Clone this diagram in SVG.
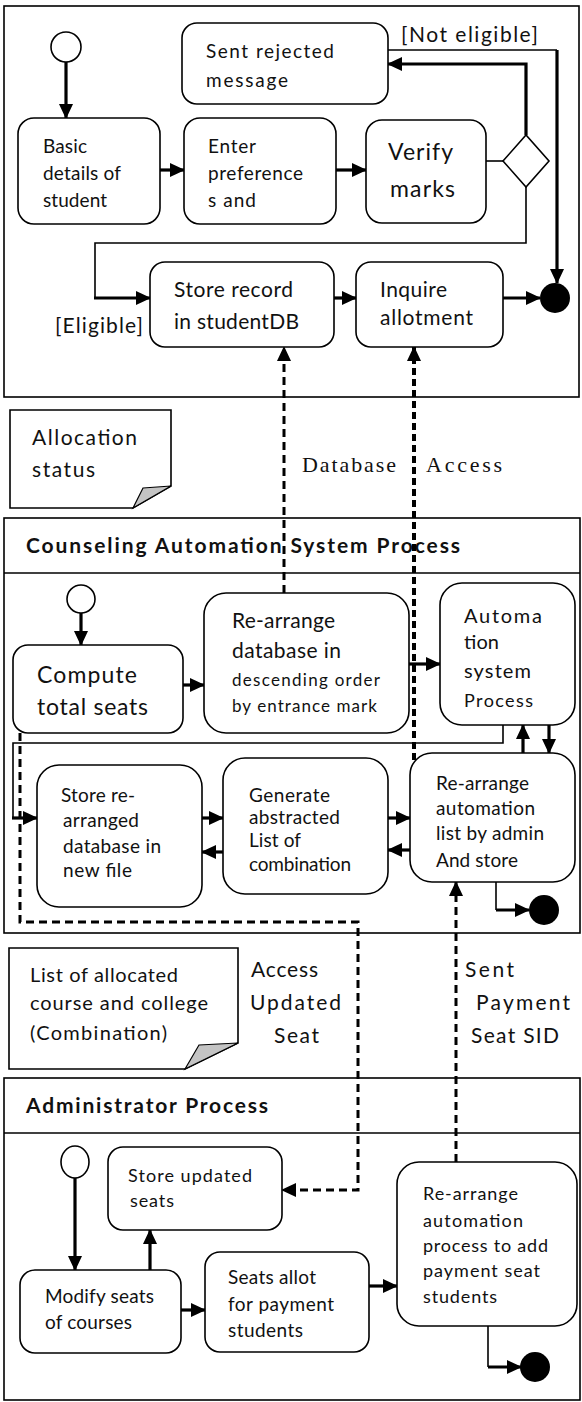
<svg xmlns="http://www.w3.org/2000/svg" width="582" height="1402" viewBox="0 0 582 1402">
<style>
.panel{fill:none;stroke:#000;stroke-width:1.6}
.box{fill:#fff;stroke:#000;stroke-width:1.6}
.note{fill:#fff;stroke:#000;stroke-width:1.6}
.fold{fill:#c4c4c4;stroke:#000;stroke-width:1.2}
.t{font-family:"Lato","Open Sans",sans-serif;font-size:19px;fill:#111}
.hd{font-family:"Lato","Open Sans",sans-serif;font-size:21px;font-weight:bold;fill:#111}
.sf{font-family:"Liberation Serif",serif;font-size:22px;fill:#111}
.thin{fill:none;stroke:#000;stroke-width:1.6}
.thick{fill:none;stroke:#000;stroke-width:3.2}
.dash{fill:none;stroke:#000;stroke-width:3;stroke-dasharray:8 5}
.dash2{fill:none;stroke:#000;stroke-width:4;stroke-dasharray:7 4}
.start{fill:#fff;stroke:#000;stroke-width:1.6}
.end{fill:#000}
</style>
<defs>
<marker id="ah" markerUnits="userSpaceOnUse" markerWidth="15" markerHeight="14" refX="14" refY="7" orient="auto">
<path d="M0,0 L15,7 L0,14 z" fill="#000"/>
</marker>
</defs>
<rect width="582" height="1402" fill="#fff"/>

<!-- panels -->
<g id="panel-student">
<rect class="panel" x="4" y="6" width="575" height="391"/>
</g>
<g id="panel-counseling">
<rect class="panel" x="4" y="518" width="576" height="415"/>
<line class="panel" x1="4" y1="573" x2="580" y2="573"/>
<text class="hd" x="26" y="553" textLength="434">Counseling Automation System Process</text>
</g>
<g id="panel-admin">
<rect class="panel" x="4" y="1078" width="576" height="322"/>
<line class="panel" x1="4" y1="1133" x2="580" y2="1133"/>
<text class="hd" x="26" y="1113" textLength="242">Administrator Process</text>
</g>

<!-- connectors -->
<g id="connectors">
<line class="thick" x1="66" y1="62" x2="66" y2="118" marker-end="url(#ah)"/>
<line class="thick" x1="160" y1="170" x2="184" y2="170" marker-end="url(#ah)"/>
<line class="thick" x1="336" y1="170" x2="366" y2="170" marker-end="url(#ah)"/>
<line class="thin" x1="486" y1="161" x2="503" y2="161"/>
<polyline class="thick" points="526,135 526,64 388,64" marker-end="url(#ah)"/>
<polyline class="thin" points="388,50 557,50"/>
<line class="thick" x1="557" y1="50" x2="557" y2="283" marker-end="url(#ah)"/>
<polyline class="thin" points="526,187 526,243 95,243 95,298"/>
<line class="thick" x1="94" y1="298" x2="150" y2="298" marker-end="url(#ah)"/>
<line class="thick" x1="334" y1="298" x2="356" y2="298" marker-end="url(#ah)"/>
<line class="thick" x1="503" y1="298" x2="540" y2="298" marker-end="url(#ah)"/>
<line class="dash" x1="284" y1="593" x2="284" y2="347" marker-end="url(#ah)"/>
<line class="dash2" x1="414" y1="760" x2="414" y2="347" marker-end="url(#ah)"/>

<line class="thick" x1="81" y1="613" x2="81" y2="645" marker-end="url(#ah)"/>
<line class="thick" x1="183" y1="685" x2="204" y2="685" marker-end="url(#ah)"/>
<line class="thick" x1="408" y1="664" x2="440" y2="664" marker-end="url(#ah)"/>
<line class="thick" x1="523" y1="753" x2="523" y2="725" marker-end="url(#ah)"/>
<line class="thick" x1="549" y1="725" x2="549" y2="753" marker-end="url(#ah)"/>
<polyline class="thin" points="503,725 503,743 13,743 13,818"/>
<line class="thick" x1="12" y1="818" x2="37" y2="818" marker-end="url(#ah)"/>
<line class="thick" x1="202" y1="818" x2="223" y2="818" marker-end="url(#ah)"/>
<line class="thick" x1="223" y1="852" x2="202" y2="852" marker-end="url(#ah)"/>
<line class="thick" x1="388" y1="818" x2="410" y2="818" marker-end="url(#ah)"/>
<line class="thick" x1="410" y1="850" x2="388" y2="850" marker-end="url(#ah)"/>
<polyline class="thin" points="496,882 496,910"/>
<line class="thick" x1="496" y1="910" x2="529" y2="910" marker-end="url(#ah)"/>
<polyline class="dash" points="20,733 20,922 358,922 358,1190 282,1190" marker-end="url(#ah)"/>
<line class="dash" x1="456" y1="1162" x2="456" y2="882" marker-end="url(#ah)"/>

<line class="thick" x1="75" y1="1178" x2="75" y2="1270" marker-end="url(#ah)"/>
<line class="thick" x1="150" y1="1270" x2="150" y2="1230" marker-end="url(#ah)"/>
<line class="thick" x1="181" y1="1310" x2="205" y2="1310" marker-end="url(#ah)"/>
<line class="thick" x1="369" y1="1286" x2="397" y2="1286" marker-end="url(#ah)"/>
<polyline class="thin" points="488,1326 488,1367"/>
<line class="thick" x1="488" y1="1367" x2="521" y2="1367" marker-end="url(#ah)"/>
</g>

<!-- top panel nodes -->
<g id="start1"><circle class="start" cx="66" cy="47" r="15"/></g>
<g id="n-sent-rejected">
<rect class="box" x="182" y="23" width="206" height="81" rx="15"/>
<text class="t" x="206" y="58" textLength="128">Sent rejected</text>
<text class="t" x="206" y="87" textLength="82">message</text>
</g>
<g id="lbl-not-eligible"><text class="t" x="401" y="42" style="font-size:21px" textLength="137">[Not eligible]</text></g>
<g id="n-basic">
<rect class="box" x="18" y="118" width="142" height="106" rx="16"/>
<text class="t" x="43" y="153" textLength="44">Basic</text>
<text class="t" x="43" y="180" textLength="78">details of</text>
<text class="t" x="43" y="207" textLength="64">student</text>
</g>
<g id="n-enter">
<rect class="box" x="184" y="118" width="152" height="106" rx="16"/>
<text class="t" x="208" y="153" textLength="48">Enter</text>
<text class="t" x="208" y="180" textLength="95">preference</text>
<text class="t" x="208" y="207" textLength="48">s and</text>
</g>
<g id="n-verify">
<rect class="box" x="366" y="120" width="120" height="103" rx="16"/>
<text class="t" x="388" y="160" style="font-size:23px" textLength="65">Verify</text>
<text class="t" x="390" y="197" style="font-size:23px" textLength="65">marks</text>
</g>
<g id="decision"><polygon class="box" points="503,161 526,135 549,161 526,187"/></g>
<g id="lbl-eligible"><text class="t" x="55" y="333" style="font-size:21px" textLength="88">[Eligible]</text></g>
<g id="n-store-record">
<rect class="box" x="150" y="262" width="184" height="85" rx="15"/>
<text class="t" x="174" y="297" style="font-size:21px" textLength="119">Store record</text>
<text class="t" x="174" y="329" style="font-size:21px" textLength="125">in studentDB</text>
</g>
<g id="n-inquire">
<rect class="box" x="356" y="262" width="147" height="85" rx="15"/>
<text class="t" x="380" y="297" style="font-size:21px" textLength="67">Inquire</text>
<text class="t" x="380" y="325" style="font-size:21px" textLength="93">allotment</text>
</g>
<g id="end1"><circle class="end" cx="555" cy="298" r="15"/></g>

<!-- middle notes and labels -->
<g id="note-allocation">
<polygon class="note" points="10,410 171,410 171,486 133,508 10,508"/>
<polygon class="fold" points="143,488 171,486 133,508"/>
<text class="t" x="32" y="445" style="font-size:21px" textLength="105">Allocation</text>
<text class="t" x="32" y="477" style="font-size:21px" textLength="63">status</text>
</g>
<g id="lbl-database-access">
<text class="sf" x="302" y="472" textLength="94">Database</text>
<text class="sf" x="426" y="472" textLength="76">Access</text>
</g>

<!-- counseling nodes -->
<g id="start2"><ellipse class="start" cx="81" cy="599" rx="14" ry="14"/></g>
<g id="n-compute">
<rect class="box" x="13" y="645" width="170" height="88" rx="15"/>
<text class="t" x="37" y="683" style="font-size:23px" textLength="100">Compute</text>
<text class="t" x="37" y="715" style="font-size:23px" textLength="111">total seats</text>
</g>
<g id="n-rearrange-db">
<rect class="box" x="204" y="593" width="205" height="140" rx="22"/>
<text class="t" x="232" y="628" style="font-size:21px" textLength="103">Re-arrange</text>
<text class="t" x="232" y="658" style="font-size:21px" textLength="109">database in</text>
<text class="t" x="232" y="686" style="font-size:17px" textLength="148">descending order</text>
<text class="t" x="232" y="712" style="font-size:17px" textLength="145">by entrance mark</text>
</g>
<g id="n-automation">
<rect class="box" x="440" y="583" width="135" height="142" rx="22"/>
<text class="t" x="464" y="623" style="font-size:20px" textLength="78">Automa</text>
<text class="t" x="464" y="649" style="font-size:20px" textLength="35">tion</text>
<text class="t" x="464" y="678" style="font-size:20px" textLength="67">system</text>
<text class="t" x="464" y="707" style="font-size:18px" textLength="69">Process</text>
</g>
<g id="n-store-rearranged">
<rect class="box" x="37" y="765" width="165" height="142" rx="22"/>
<text class="t" x="61" y="802" textLength="74">Store re-</text>
<text class="t" x="63" y="827" textLength="76">arranged</text>
<text class="t" x="63" y="853" textLength="98">database in</text>
<text class="t" x="63" y="877" textLength="69">new file</text>
</g>
<g id="n-generate">
<rect class="box" x="223" y="758" width="165" height="136" rx="22"/>
<text class="t" x="249" y="802" textLength="81">Generate</text>
<text class="t" x="249" y="824" textLength="91">abstracted</text>
<text class="t" x="249" y="847" textLength="52">List of</text>
<text class="t" x="249" y="871" textLength="102">combination</text>
</g>
<g id="n-rearrange-list">
<rect class="box" x="410" y="753" width="165" height="129" rx="22"/>
<text class="t" x="436" y="790" textLength="93">Re-arrange</text>
<text class="t" x="436" y="815" textLength="99">automation</text>
<text class="t" x="436" y="840" textLength="108">list by admin</text>
<text class="t" x="436" y="867" textLength="82">And store</text>
</g>
<g id="end2"><circle class="end" cx="544" cy="910" r="15"/></g>

<!-- lower notes and labels -->
<g id="note-list">
<polygon class="note" points="9,948 238,948 238,1043 185,1069 9,1069"/>
<polygon class="fold" points="199,1045 238,1043 185,1069"/>
<text class="t" x="30" y="982" style="font-size:20px" textLength="148">List of allocated</text>
<text class="t" x="30" y="1010" style="font-size:20px" textLength="178">course and college</text>
<text class="t" x="30" y="1040" style="font-size:20px" textLength="137">(Combination)</text>
</g>
<g id="lbl-access-updated">
<text class="t" x="251" y="977" style="font-size:21px" textLength="67">Access</text>
<text class="t" x="250" y="1010" style="font-size:21px" textLength="91">Updated</text>
<text class="t" x="274" y="1043" style="font-size:21px" textLength="45">Seat</text>
</g>
<g id="lbl-sent-payment">
<text class="t" x="465" y="977" style="font-size:21px" textLength="49">Sent</text>
<text class="t" x="476" y="1010" style="font-size:21px" textLength="94">Payment</text>
<text class="t" x="471" y="1043" style="font-size:21px" textLength="88">Seat SID</text>
</g>

<!-- admin nodes -->
<g id="start3"><ellipse class="start" cx="75" cy="1162" rx="14" ry="16"/></g>
<g id="n-store-updated">
<rect class="box" x="108" y="1147" width="174" height="83" rx="15"/>
<text class="t" x="128" y="1182" style="font-size:18px" textLength="124">Store updated</text>
<text class="t" x="130" y="1207" style="font-size:18px" textLength="44">seats</text>
</g>
<g id="n-modify">
<rect class="box" x="20" y="1270" width="161" height="83" rx="15"/>
<text class="t" x="45" y="1303" textLength="109">Modify seats</text>
<text class="t" x="45" y="1329" textLength="87">of courses</text>
</g>
<g id="n-seats-allot">
<rect class="box" x="205" y="1252" width="164" height="100" rx="15"/>
<text class="t" x="228" y="1284" textLength="88">Seats allot</text>
<text class="t" x="228" y="1311" textLength="106">for payment</text>
<text class="t" x="228" y="1337" textLength="75">students</text>
</g>
<g id="n-rearrange-process">
<rect class="box" x="397" y="1162" width="180" height="164" rx="22"/>
<text class="t" x="423" y="1200" style="font-size:18px" textLength="95">Re-arrange</text>
<text class="t" x="423" y="1227" style="font-size:18px" textLength="100">automation</text>
<text class="t" x="423" y="1252" style="font-size:18px" textLength="125">process to add</text>
<text class="t" x="423" y="1277" style="font-size:18px" textLength="117">payment seat</text>
<text class="t" x="423" y="1303" style="font-size:18px" textLength="74">students</text>
</g>
<g id="end3"><circle class="end" cx="535" cy="1367" r="15"/></g>
</svg>
